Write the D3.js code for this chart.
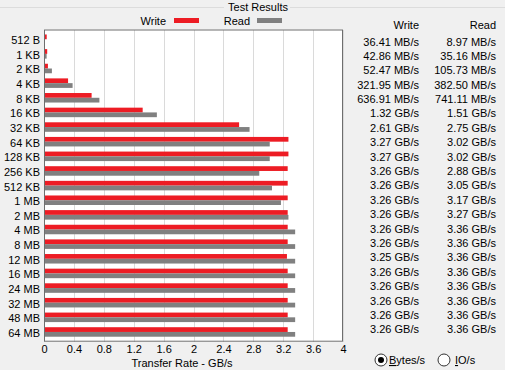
<!DOCTYPE html>
<html>
<head>
<meta charset="utf-8">
<script src="https://cdn.jsdelivr.net/npm/d3@7"></script>
<style>
  body { margin: 0; background: #f0f0f0; }
  svg { display: block; font-family: "Liberation Sans", Arial, sans-serif; font-size: 11px; }
  .axis text { fill: #000; font-size: 11px; }
</style>
</head>
<body>
<svg id="chart" width="505" height="370"></svg>
<script>
// block sizes tested
var sizes = ["512 B", "1 KB", "2 KB", "4 KB", "8 KB", "16 KB", "32 KB", "64 KB", "128 KB", "256 KB",
  "512 KB", "1 MB", "2 MB", "4 MB", "8 MB", "12 MB", "16 MB", "24 MB", "32 MB", "48 MB", "64 MB"];

// transfer rates in MB/s
var writeMB = [36.41, 42.86, 52.47, 321.95, 636.91, 1320, 2610, 3270, 3270, 3260,
  3260, 3260, 3260, 3260, 3260, 3250, 3260, 3260, 3260, 3260, 3260];
var readMB = [8.97, 35.16, 105.73, 382.50, 741.11, 1510, 2750, 3020, 3020, 2880,
  3050, 3170, 3270, 3360, 3360, 3360, 3360, 3360, 3360, 3360, 3360];

var xTicks = [0, 0.4, 0.8, 1.2, 1.6, 2, 2.4, 2.8, 3.2, 3.6, 4];

var svg = d3.select("#chart");

// plot box (window.top is read-only, so use other names)
var margin = { left: 44, right: 343, top: 29.5, bottom: 341.7 };
var width = margin.right - margin.left, height = margin.bottom - margin.top;

var x = d3.scaleLinear().domain([0, 4]).range([0, width]);
var y = d3.scaleBand().domain(sizes).range([0, height]).paddingInner(0.35).paddingOuter(0.34);

// group box line + title
svg.append("line").attr("x1", 0).attr("x2", 224).attr("y1", 7.5).attr("y2", 7.5).attr("stroke", "#dcdcdc");
svg.append("line").attr("x1", 290).attr("x2", 505).attr("y1", 7.5).attr("y2", 7.5).attr("stroke", "#dcdcdc");
svg.append("text").attr("x", 258).attr("y", 11).attr("text-anchor", "middle").text("Test Results");

// legend
var legend = [{name: "Write", color: "#ed1c24", tx: 166, sx: 174}, {name: "Read", color: "#808080", tx: 250, sx: 257}];
legend.forEach(function (d) {
  svg.append("text").attr("x", d.tx).attr("y", 25).attr("text-anchor", "end").text(d.name);
  svg.append("rect").attr("x", d.sx).attr("y", 18).attr("width", 25).attr("height", 5).attr("fill", d.color);
});

var g = svg.append("g").attr("transform", "translate(" + margin.left + "," + margin.top + ")");

g.append("rect").attr("width", width).attr("height", height).attr("fill", "#fff");

// gridlines
g.append("g")
  .attr("transform", "translate(0," + height + ")")
  .call(d3.axisBottom(x).tickValues(xTicks).tickSize(-height).tickFormat(""))
  .call(s => s.select(".domain").remove())
  .call(s => s.selectAll("line").attr("stroke", "#dadada").attr("shape-rendering", "crispEdges"));

var rows = g.selectAll(".row")
  .data(sizes)
  .enter().append("g")
  .attr("class", "row")
  .attr("transform", d => "translate(0," + y(d) + ")");

rows.append("rect")
  .attr("x", 0)
  .attr("y", 0)
  .attr("width", (d, i) => x(writeMB[i] / 1000))
  .attr("height", y.bandwidth() / 2)
  .attr("fill", "#ed1c24");

rows.append("rect")
  .attr("x", 0)
  .attr("y", y.bandwidth() / 2)
  .attr("width", (d, i) => x(readMB[i] / 1000))
  .attr("height", y.bandwidth() / 2)
  .attr("fill", "#808080");

// border
g.append("rect").attr("x", 0.5).attr("y", 0.5).attr("width", width - 1).attr("height", height - 1)
  .attr("fill", "none").attr("stroke", "#6e6e6e");

// axes
g.append("g")
  .attr("class", "axis")
  .attr("transform", "translate(0," + height + ")")
  .call(d3.axisBottom(x).tickValues(xTicks).tickSize(0).tickPadding(4).tickFormat(d3.format("")))
  .call(s => s.select(".domain").remove())
  .call(s => s.selectAll("text").attr("font-family", null));

g.append("g")
  .attr("class", "axis")
  .call(d3.axisLeft(y).tickSize(0).tickPadding(4))
  .call(s => s.select(".domain").remove())
  .call(s => s.selectAll("text").attr("dy", "0.45em").attr("font-family", null));

svg.append("text").attr("x", 182).attr("y", 366.5).attr("text-anchor", "middle").text("Transfer Rate - GB/s");

// value table
function fmt(v) {
  return v < 1000 ? v.toFixed(2) + " MB/s" : (v / 1000).toFixed(2) + " GB/s";
}
var rowY = d3.scaleLinear().domain([0, sizes.length - 1]).range([45.5, 333.3]);

svg.append("text").attr("x", 419).attr("y", 29.3).attr("text-anchor", "end").text("Write");
svg.append("text").attr("x", 496).attr("y", 29.3).attr("text-anchor", "end").text("Read");

svg.selectAll(".wv").data(writeMB).enter().append("text")
  .attr("x", 419).attr("y", (d, i) => rowY(i)).attr("text-anchor", "end").text(fmt);
svg.selectAll(".rv").data(readMB).enter().append("text")
  .attr("x", 496).attr("y", (d, i) => rowY(i)).attr("text-anchor", "end").text(fmt);

// radio buttons
var radios = [{cx: 381, tx: 389, label: "Bytes/s", on: true}, {cx: 444, tx: 455, label: "IO/s", on: false}];
radios.forEach(function (r) {
  svg.append("circle").attr("cx", r.cx).attr("cy", 360).attr("r", 6)
    .attr("fill", "#fff").attr("stroke", "#333");
  if (r.on) svg.append("circle").attr("cx", r.cx).attr("cy", 360).attr("r", 3).attr("fill", "#000");
  var t = svg.append("text").attr("x", r.tx).attr("y", 364);
  t.append("tspan").attr("text-decoration", "underline").text(r.label[0]);
  t.append("tspan").text(r.label.slice(1));
});
</script>
</body>
</html>
